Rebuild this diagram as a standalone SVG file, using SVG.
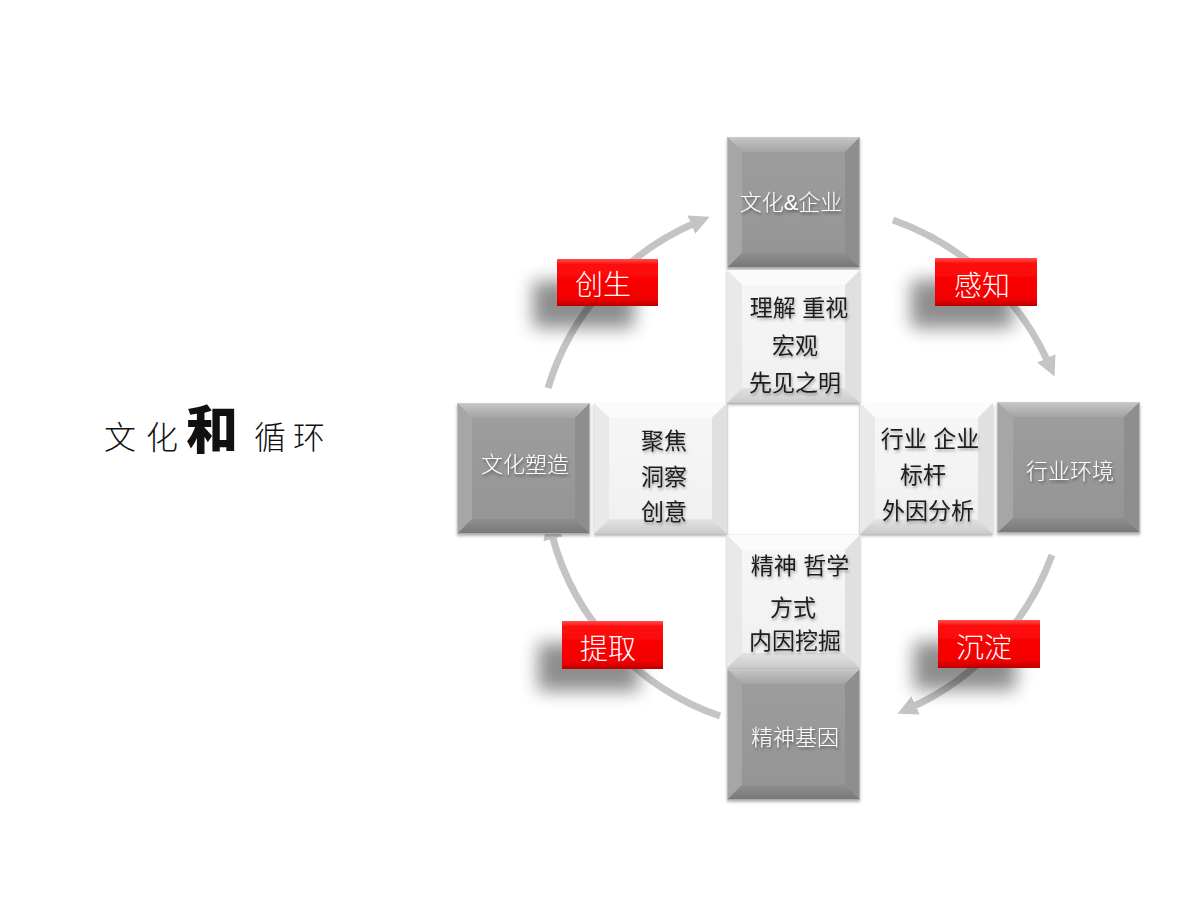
<svg xmlns="http://www.w3.org/2000/svg" xmlns:xlink="http://www.w3.org/1999/xlink" width="1200" height="900" viewBox="0 0 1200 900">
<style>
.cjk{font-family:"Liberation Sans","Noto Sans CJK SC",sans-serif;}
.darkText{font-size:22px;fill:#ffffff;text-anchor:middle;font-weight:300;}
.lightText{font-size:23px;fill:#1e1e1e;text-anchor:middle;}
.redText{font-size:28px;fill:#ffffff;text-anchor:middle;font-weight:300;}
.title{font-size:32px;fill:#111;text-anchor:middle;font-weight:300;}
.arc{fill:none;stroke:#c4c4c4;stroke-width:7;}
</style>
<defs>
<linearGradient id="darkFace" x1="0" y1="0" x2="0" y2="1">
<stop offset="0" stop-color="#9e9e9e"/><stop offset="1" stop-color="#949494"/>
</linearGradient>
<linearGradient id="darkTop" x1="0" y1="0" x2="0" y2="1">
<stop offset="0" stop-color="#c6c6c6"/><stop offset="1" stop-color="#a4a4a4"/>
</linearGradient>
<linearGradient id="darkBottom" x1="0" y1="0" x2="0" y2="1">
<stop offset="0" stop-color="#8e8e8e"/><stop offset="1" stop-color="#777777"/>
</linearGradient>
<linearGradient id="lightFace" x1="0" y1="0" x2="0" y2="1">
<stop offset="0" stop-color="#f7f7f7"/><stop offset="1" stop-color="#f0f0f0"/>
</linearGradient>
<linearGradient id="lightBottom" x1="0" y1="0" x2="0" y2="1">
<stop offset="0" stop-color="#e2e2e2"/><stop offset="1" stop-color="#cacaca"/>
</linearGradient>
<linearGradient id="redFill" x1="0" y1="0" x2="0" y2="1">
<stop offset="0" stop-color="#ff5050"/><stop offset="0.12" stop-color="#ff0a0a"/><stop offset="0.85" stop-color="#f20000"/><stop offset="1" stop-color="#b80000"/>
</linearGradient>
<filter id="boxShadow" x="-10%" y="-10%" width="120%" height="125%">
<feDropShadow dx="0" dy="2" stdDeviation="1.5" flood-color="#000" flood-opacity="0.3"/>
</filter>
<filter id="txtShadowDark" x="-10%" y="-30%" width="130%" height="170%">
<feDropShadow dx="1" dy="2" stdDeviation="1.5" flood-color="#000" flood-opacity="0.45"/>
</filter>
<filter id="txtShadowLight" x="-10%" y="-30%" width="130%" height="170%">
<feDropShadow dx="1" dy="2" stdDeviation="1.5" flood-color="#000" flood-opacity="0.35"/>
</filter>
<filter id="redShadow" x="-60%" y="-60%" width="220%" height="280%">
<feGaussianBlur in="SourceAlpha" stdDeviation="9"/>
<feOffset dx="-24" dy="22"/>
<feComponentTransfer><feFuncA type="linear" slope="0.45"/></feComponentTransfer>
<feMerge><feMergeNode/><feMergeNode in="SourceGraphic"/></feMerge>
</filter>
<marker id="arrow" viewBox="0 0 20 20" markerWidth="20" markerHeight="20" refX="4" refY="10" orient="auto" markerUnits="userSpaceOnUse">
<path d="M0,0 L20,10 L0,20 z" fill="#c4c4c4"/>
</marker>
<symbol id="darkBox" viewBox="0 0 133 132" preserveAspectRatio="none">
<rect width="133" height="132" fill="url(#darkFace)"/>
<polygon points="0,0 133,0 118,15 15,15" fill="url(#darkTop)"/>
<polygon points="0,0 15,15 15,117 0,132" fill="#a6a6a6"/>
<polygon points="133,0 133,132 118,117 118,15" fill="#8e8e8e"/>
<polygon points="0,132 15,117 118,117 133,132" fill="url(#darkBottom)"/>
<rect x="0.5" y="0.5" width="132" height="131" fill="none" stroke="#d0d0d0" stroke-width="1" stroke-opacity="0.6"/>
</symbol>
<symbol id="lightBox" viewBox="0 0 133 133" preserveAspectRatio="none">
<rect width="133" height="133" fill="url(#lightFace)"/>
<polygon points="0,0 133,0 118,15 15,15" fill="#fbfbfb"/>
<polygon points="0,0 15,15 15,118 0,133" fill="#e9e9e9"/>
<polygon points="133,0 133,133 118,118 118,15" fill="#e0e0e0"/>
<polygon points="0,133 15,118 118,118 133,133" fill="url(#lightBottom)"/>
</symbol>
</defs>
<rect width="1200" height="900" fill="#ffffff"/>

<g id="title">
<text class="cjk title" y="449"><tspan x="120">文</tspan><tspan x="162">化</tspan><tspan x="212" font-size="52" font-weight="900">和</tspan><tspan x="270">循</tspan><tspan x="309">环</tspan></text>
</g>

<g id="connectors">
<path class="arc" d="M548,388 A262,262 0 0 1 695,223" marker-end="url(#arrow)"/>
<path class="arc" d="M893,220 A268,268 0 0 1 1048,362" marker-end="url(#arrow)"/>
<path class="arc" d="M1052,555 A268,268 0 0 1 912,707" marker-end="url(#arrow)"/>
<path class="arc" d="M720,716 A262,262 0 0 1 552,535" marker-end="url(#arrow)"/>
</g>

<g id="center">
<rect x="727" y="403" width="133" height="132" fill="#ffffff" stroke="#e4e4e4" stroke-width="1"/>
</g>

<g id="node-top" filter="url(#boxShadow)">
<use xlink:href="#darkBox" href="#darkBox" x="727" y="137" width="133" height="131"/>
<text class="cjk darkText" x="791" y="210" font-size="23" filter="url(#txtShadowDark)">文化&amp;企业</text>
</g>
<g id="detail-top" filter="url(#boxShadow)">
<use xlink:href="#lightBox" href="#lightBox" x="727" y="270" width="133" height="133"/>
<g class="cjk lightText" filter="url(#txtShadowLight)">
<text x="799" y="316">理解 重视</text>
<text x="795" y="354">宏观</text>
<text x="795" y="391">先见之明</text>
</g>
</g>

<g id="node-left" filter="url(#boxShadow)">
<use xlink:href="#darkBox" href="#darkBox" x="457" y="403" width="133" height="131"/>
<text class="cjk darkText" x="525" y="472" font-size="21" filter="url(#txtShadowDark)">文化塑造</text>
</g>
<g id="detail-left" filter="url(#boxShadow)">
<use xlink:href="#lightBox" href="#lightBox" x="594" y="403" width="133" height="131"/>
<g class="cjk lightText" filter="url(#txtShadowLight)">
<text x="664" y="449">聚焦</text>
<text x="664" y="485">洞察</text>
<text x="664" y="520">创意</text>
</g>
</g>

<g id="detail-right" filter="url(#boxShadow)">
<use xlink:href="#lightBox" href="#lightBox" x="860" y="403" width="133" height="131"/>
<g class="cjk lightText" filter="url(#txtShadowLight)">
<text x="930" y="447">行业 企业</text>
<text x="923" y="483">标杆</text>
<text x="928" y="519">外因分析</text>
</g>
</g>
<g id="node-right" filter="url(#boxShadow)">
<use xlink:href="#darkBox" href="#darkBox" x="997" y="402" width="143" height="131"/>
<text class="cjk darkText" x="1070" y="479" font-size="23" filter="url(#txtShadowDark)">行业环境</text>
</g>

<g id="detail-bottom" filter="url(#boxShadow)">
<use xlink:href="#lightBox" href="#lightBox" x="727" y="535" width="133" height="133"/>
<g class="cjk lightText" filter="url(#txtShadowLight)">
<text x="800" y="574">精神 哲学</text>
<text x="793" y="616">方式</text>
<text x="795" y="649">内因挖掘</text>
</g>
</g>
<g id="node-bottom" filter="url(#boxShadow)">
<use xlink:href="#darkBox" href="#darkBox" x="727" y="669" width="133" height="131"/>
<text class="cjk darkText" x="795" y="745" font-size="21" filter="url(#txtShadowDark)">精神基因</text>
</g>

<g id="labels">
<g id="label-chuangsheng">
<rect x="557" y="259" width="101" height="47" fill="url(#redFill)" filter="url(#redShadow)"/>
<text class="cjk redText" x="603" y="295">创生</text>
</g>
<g id="label-ganzhi">
<rect x="935" y="258" width="102" height="48" fill="url(#redFill)" filter="url(#redShadow)"/>
<text class="cjk redText" x="982" y="296">感知</text>
</g>
<g id="label-chendian">
<rect x="938" y="620" width="102" height="48" fill="url(#redFill)" filter="url(#redShadow)"/>
<text class="cjk redText" x="984" y="658">沉淀</text>
</g>
<g id="label-tiqu">
<rect x="562" y="621" width="101" height="48" fill="url(#redFill)" filter="url(#redShadow)"/>
<text class="cjk redText" x="608" y="659">提取</text>
</g>
</g>
</svg>
